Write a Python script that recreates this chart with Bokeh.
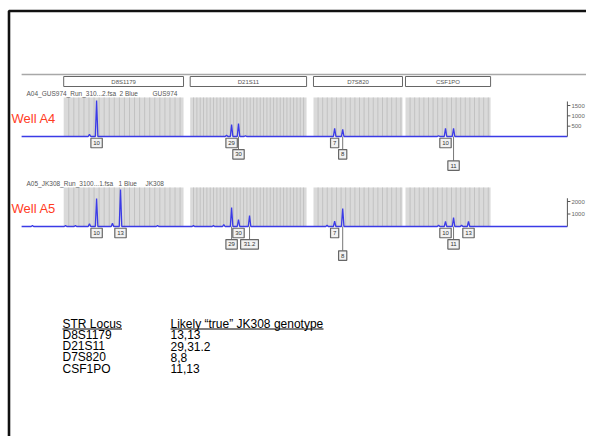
from bokeh.plotting import figure
from bokeh.models import Range1d
from bokeh.embed import file_html
from bokeh.resources import INLINE
from bokeh.core.properties import value

# ---------------- data ----------------
loci = ["D8S1179", "D21S11", "D7S820", "CSF1PO"]
locus_start_bp = [120.0, 175.0, 228.6, 268.6]
locus_end_bp = [172.1, 225.6, 267.3, 305.6]
bin_step_bp = [2.2, 1.45, 2.0, 2.0]

trace_start_bp = 101.7
trace_end_bp = 339.0

a4_file, a4_dye, a4_sample = "A04_GUS974_Run_310...2.fsa", "2 Blue", "GUS974"
a4_peak_bp = [134.3, 193.0, 196.0, 237.8, 241.3, 286.0, 289.5]
a4_peak_rfu = [1740, 580, 630, 390, 340, 390, 390]
a4_allele = ["10", "29", "30", "7", "8", "10", "11"]
a4_minor_bp = [131.2, 190.8, 199.0, 283.0]
a4_minor_rfu = [110, 60, 40, 40]
a4_ticks = [500, 1000, 1500]

a5_file, a5_dye, a5_sample = "A05_JK308_Run_3100...1.fsa", "1 Blue", "JK308"
a5_peak_bp = [134.3, 144.7, 193.0, 196.0, 200.8, 237.8, 241.3, 286.0, 289.5, 296.0]
a5_peak_rfu = [2240, 2960, 1520, 560, 880, 420, 1440, 400, 720, 400]
a5_allele = ["10", "13", "29", "30", "31.2", "7", "8", "10", "11", "13"]
a5_minor_bp = [106.4, 120.8, 125.1, 131.2, 141.2, 160.8, 176.4, 185.1, 189.6, 234.5, 283.0, 293.0]
a5_minor_rfu = [80, 80, 80, 220, 260, 80, 80, 80, 160, 100, 100, 100]
a5_ticks = [1000, 2000]

table_header = ["STR Locus", "Likely \u201ctrue\u201d JK308 genotype"]
table_locus = ["D8S1179", "D21S11", "D7S820", "CSF1PO"]
table_genotype = ["13,13", "29,31.2", "8,8", "11,13"]

# ---------------- layout (screen) ----------------
W, H = 586, 436
PX_PER_BP = 2.3
BP0 = 96.0 - 8 / PX_PER_BP
A4_BASE, A4_K = 136.0, 31.0 / 1500   # image y of baseline, px per RFU
A5_BASE, A5_K = 226.0, 12.5 / 1000
A4_TOP, A5_TOP = 97.0, 187.0
A4_LABEL_ROWS = [0, 0, 1, 0, 1, 0, 2]
A5_LABEL_ROWS = [0, 0, 1, 0, 1, 0, 2, 0, 1, 0]
A4_NAME_X = [26, 119, 152]
A5_NAME_X = [26, 118, 145]

BLUE = "#3b3be6"
FONT = value("Liberation Sans")
TFS = "12px"

p = figure(width=W, height=H, x_range=Range1d(0, W), y_range=Range1d(H, 0),
           toolbar_location=None, output_backend="svg", min_border=0,
           x_axis_location=None, y_axis_location=None)
p.grid.visible = False
p.outline_line_color = None
p.background_fill_color = "white"
p.border_fill_color = "white"
p.extra_x_ranges = {"bp": Range1d(BP0, BP0 + W / PX_PER_BP)}
p.extra_y_ranges = {
    "a4": Range1d(-(H - A4_BASE) / A4_K, A4_BASE / A4_K),
    "a5": Range1d(-(H - A5_BASE) / A5_K, A5_BASE / A5_K),
}

# slide frame
p.line([8.5, 8.5, 600], [460, 10.5, 10.5], line_color="#111111", line_width=2.6)

# top gray line and locus boxes
p.segment(x0=[trace_start_bp], x1=[96.0 + (590 - 8) / PX_PER_BP], y0=[74], y1=[74],
          x_range_name="bp", line_color="#a8a8a8", line_width=1.5)
p.quad(left=locus_start_bp, right=locus_end_bp, top=[76] * 4, bottom=[86] * 4,
       x_range_name="bp", fill_color="white", line_color="#666666", line_width=1)
p.text(x=[(a + b) / 2 for a, b in zip(locus_start_bp, locus_end_bp)], y=[81.5] * 4, text=loci,
       x_range_name="bp", text_font=FONT, text_font_size="6px", text_color="#555555",
       text_align="center", text_baseline="middle")


def panel(name_parts, name_x, base, top, yname, pk_bp, pk_rfu, minor_bp, minor_rfu,
          alleles, rows, ticks, well):
    # bins
    p.quad(left=locus_start_bp, right=locus_end_bp, top=[top] * 4, bottom=[base] * 4,
           x_range_name="bp", fill_color="#dadada", line_color=None)
    bx = []
    for s, e, st in zip(locus_start_bp, locus_end_bp, bin_step_bp):
        v = s + st
        while v < e - 0.3:
            bx.append(v)
            v += st
    p.segment(x0=bx, x1=bx, y0=[top] * len(bx), y1=[base] * len(bx), x_range_name="bp",
              line_color="#c2c2c2", line_width=1)
    # trace
    pts = sorted(list(zip(pk_bp, pk_rfu)) + list(zip(minor_bp, minor_rfu)))
    xs, ys = [trace_start_bp], [0]
    for b, h in pts:
        xs += [b - 0.55, b, b + 0.55]
        ys += [0, h, 0]
    xs.append(trace_end_bp)
    ys.append(0)
    p.line(xs, ys, x_range_name="bp", y_range_name=yname, line_color=BLUE, line_width=1.3)
    # right axis
    axis_top = ticks[-1] * 1.13
    p.segment(x0=[trace_end_bp], x1=[trace_end_bp], y0=[0], y1=[axis_top],
              x_range_name="bp", y_range_name=yname, line_color="#555555", line_width=1)
    p.ray(x=[trace_end_bp] * len(ticks), y=ticks, length=3, angle=0, length_units="screen",
          x_range_name="bp", y_range_name=yname, line_color="#555555", line_width=1)
    p.text(x=[trace_end_bp] * len(ticks), y=ticks, text=[str(t) for t in ticks],
           x_range_name="bp", y_range_name=yname, x_offset=4, text_font=FONT,
           text_font_size="6px", text_color="#666666", text_baseline="middle")
    # sample name, well label
    p.text(x=name_x, y=[top - 4] * 3, text=name_parts, text_font=FONT, text_font_size="6.5px",
           text_color="#555555", text_baseline="middle")
    p.text(x=[11], y=[(top + base) / 2 + 1], text=[well], text_font=FONT, text_font_size="13px",
           text_color="#ff3d1f", text_baseline="middle")
    # allele labels
    ly = [base + 6.5 + r * 11.3 for r in rows]
    cx = [b for b, r in zip(pk_bp, rows) if r > 0]
    cy = [y - 4.5 for y, r in zip(ly, rows) if r > 0]
    p.segment(x0=cx, x1=cx, y0=[base] * len(cx), y1=cy, x_range_name="bp",
              line_color="#777777", line_width=1)
    wd = [5 + 3.2 * len(a) for a in alleles]
    p.rect(x=pk_bp, y=ly, width=wd, height=[9.5] * len(ly), width_units="screen",
           x_range_name="bp", fill_color="#f2f2f2", line_color="#666666", line_width=1.2)
    p.text(x=pk_bp, y=ly, text=alleles, x_range_name="bp", text_font=FONT, text_font_size="6px",
           text_color="#333333", text_align="center", text_baseline="middle")


panel([a4_file, a4_dye, a4_sample], A4_NAME_X, A4_BASE, A4_TOP, "a4", a4_peak_bp, a4_peak_rfu,
      a4_minor_bp, a4_minor_rfu, a4_allele, A4_LABEL_ROWS, a4_ticks, "Well A4")
panel([a5_file, a5_dye, a5_sample], A5_NAME_X, A5_BASE, A5_TOP, "a5", a5_peak_bp, a5_peak_rfu,
      a5_minor_bp, a5_minor_rfu, a5_allele, A5_LABEL_ROWS, a5_ticks, "Well A5")

# table
TX = [62, 170]
TY0, TDY = 323.0, 11.3
p.text(x=TX, y=[TY0, TY0], text=table_header, text_font=FONT, text_font_size=TFS,
       text_color="black", text_baseline="middle")
ul = [59.5, 153]
p.segment(x0=TX, x1=[TX[0] + ul[0], TX[1] + ul[1]], y0=[TY0 + 5.5] * 2, y1=[TY0 + 5.5] * 2,
          line_color="black", line_width=1)
ry = [TY0 + TDY * (i + 1) for i in range(len(table_locus))]
p.text(x=[TX[0]] * len(ry), y=ry, text=table_locus, text_font=FONT, text_font_size=TFS,
       text_color="black", text_baseline="middle")
p.text(x=[TX[1]] * len(ry), y=ry, text=table_genotype, text_font=FONT, text_font_size=TFS,
       text_color="black", text_baseline="middle")

open("out.html", "w").write(file_html(p, INLINE))
